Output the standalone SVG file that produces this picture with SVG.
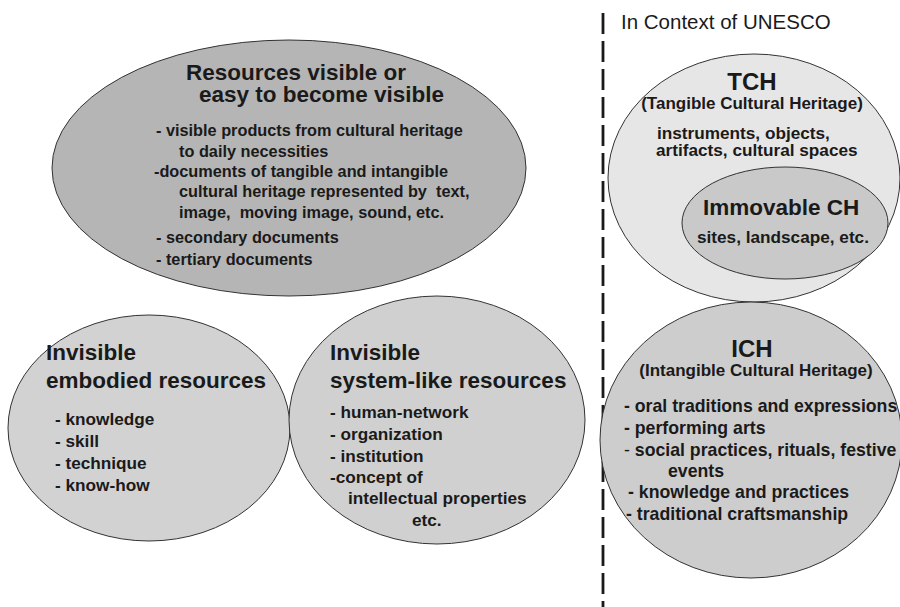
<svg xmlns="http://www.w3.org/2000/svg" width="900" height="607" viewBox="0 0 900 607">
  <style>
    text { font-family: "Liberation Sans", Arial, Helvetica, sans-serif; fill: #1a1a1a; font-weight: bold; white-space: pre; }
    .title { font-size: 22.5px; }
    .item { font-size: 16.3px; }
    .item2 { font-size: 17.2px; }
    .item3 { font-size: 17.7px; }
    .head { font-size: 24px; }
    .sub { font-size: 17px; }
    .plain { font-weight: normal; }
    ellipse { stroke: #333333; stroke-width: 1; }
  </style>

  <!-- separator between the two halves -->
  <g id="connectors">
    <line x1="603" y1="13" x2="603" y2="607" stroke="#1a1a1a" stroke-width="2.8" stroke-dasharray="21 7"/>
  </g>

  <text x="621" y="29" style="font-size:20.5px;font-weight:normal">In Context of UNESCO</text>

  <g id="invisible-embodied">
    <ellipse cx="149" cy="428" rx="141" ry="113" fill="#d2d2d2"/>
    <text class="title" x="46" y="360">Invisible</text>
    <text class="title" x="46" y="388">embodied resources</text>
    <text class="item2" x="55" y="425">- knowledge</text>
    <text class="item2" x="55" y="447">- skill</text>
    <text class="item2" x="55" y="469">- technique</text>
    <text class="item2" x="55" y="491">- know-how</text>
  </g>

  <g id="invisible-system">
    <ellipse cx="437" cy="420" rx="148" ry="124" fill="#d0d0d0"/>
    <text class="title" x="330" y="360">Invisible</text>
    <text class="title" x="330" y="388">system-like resources</text>
    <text class="item2" x="330" y="418">- human-network</text>
    <text class="item2" x="330" y="440">- organization</text>
    <text class="item2" x="330" y="462">- institution</text>
    <text class="item2" x="330" y="483">-concept of</text>
    <text class="item2" x="348" y="504">intellectual properties</text>
    <text class="item2" x="412" y="526">etc.</text>
  </g>

  <g id="visible-resources">
    <ellipse cx="289" cy="168" rx="237" ry="128" fill="#b5b5b5"/>
    <text class="title" x="186" y="80">Resources visible or</text>
    <text class="title" x="199" y="102">easy to become visible</text>
    <text class="item" x="156" y="136">- visible products from cultural heritage</text>
    <text class="item" x="179" y="157">to daily necessities</text>
    <text class="item" x="154" y="177">-documents of tangible and intangible</text>
    <text class="item" x="179" y="197">cultural heritage represented by  text,</text>
    <text class="item" x="179" y="218">image,  moving image, sound, etc.</text>
    <text class="item" x="156" y="243">- secondary documents</text>
    <text class="item" x="156" y="265">- tertiary documents</text>
  </g>

  <g id="tch">
    <ellipse cx="754" cy="178" rx="146" ry="124" fill="#e6e6e6"/>
    <text class="head" x="752" y="90" text-anchor="middle">TCH</text>
    <text class="sub" x="752" y="109" text-anchor="middle">(Tangible Cultural Heritage)</text>
    <text class="item2" x="657" y="139">instruments, objects,</text>
    <text class="item2" x="656" y="156">artifacts, cultural spaces</text>
  </g>

  <g id="immovable-ch">
    <ellipse cx="785" cy="223" rx="103" ry="56" fill="#c9c9c9"/>
    <text class="title" x="703" y="215">Immovable CH</text>
    <text class="item2" x="697" y="243">sites, landscape, etc.</text>
  </g>

  <g id="ich">
    <ellipse cx="751" cy="440" rx="151" ry="138" fill="#cdcdcd"/>
    <text class="head" x="752" y="357" text-anchor="middle">ICH</text>
    <text class="sub" x="756" y="376" text-anchor="middle">(Intangible Cultural Heritage)</text>
    <text class="item3" x="624" y="412">- oral traditions and expressions</text>
    <text class="item3" x="624" y="434">- performing arts</text>
    <text class="item3" x="624" y="456"><tspan class="plain">-</tspan> social practices, rituals, festive</text>
    <text class="item3" x="668" y="477">events</text>
    <text class="item3" x="628" y="498">- knowledge and practices</text>
    <text class="item3" x="626" y="520">- traditional craftsmanship</text>
  </g>
</svg>
